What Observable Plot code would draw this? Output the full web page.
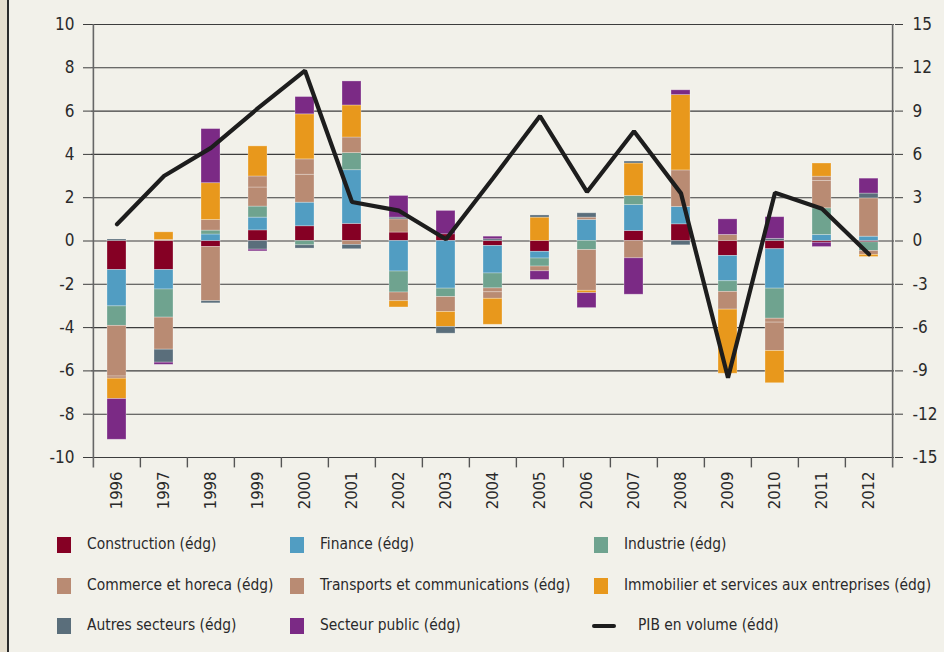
<!DOCTYPE html>
<html>
<head>
<meta charset="utf-8">
<script src="https://cdn.jsdelivr.net/npm/d3@7"></script>
<script src="https://cdn.jsdelivr.net/npm/@observablehq/plot@0.6"></script>
<style>
  html, body { margin: 0; padding: 0; background: #f2f1ea; }
  #wrap { position: relative; width: 944px; height: 652px; background: #f2f1ea; overflow: hidden;
          font-family: "Liberation Sans Narrow", "DejaVu Sans Condensed", "Roboto", sans-serif; color: #2a2a2a; }
  #strip { position: absolute; left: 0; top: 0; width: 7px; height: 652px; background: #e6dfcf; border-right: 2px solid #2b2b2b; }
  #chart { position: absolute; left: 0; top: 0; }
  .item { position: absolute; height: 16px; display: flex; align-items: center; font-size: 15.4px; white-space: nowrap; }
  .sw { position: absolute; width: 14px; height: 16px; }
  .ln { position: absolute; width: 24px; height: 4px; background: #1d1d1d; border-radius: 2px; }
</style>
</head>
<body>
<div id="wrap">
  <div id="strip"></div>
  <div id="chart"></div>
  <div id="legend"></div>
</div>
<script>
const years = ["1996","1997","1998","1999","2000","2001","2002","2003","2004","2005","2006","2007","2008","2009","2010","2011","2012"];

const sectors = [
  "Construction (édg)", "Finance (édg)", "Industrie (édg)", "Commerce et horeca (édg)",
  "Transports et communications (édg)", "Immobilier et services aux entreprises (édg)",
  "Autres secteurs (édg)", "Secteur public (édg)"
];
const colors = ["#850024", "#519dc2", "#6fa38f", "#b98b73", "#b98b73", "#e8981c", "#5a6e7b", "#7b2a85"];

const construction = [-1.34, -1.34, -0.28, 0.49, 0.68, 0.79, 0.39, 0.31, -0.23, -0.5, 0, 0.46, 0.77, -0.69, -0.38, -0.08, -0.06];
const finance      = [-1.68, -0.9, 0.3, 0.59, 1.09, 2.48, -1.41, -2.2, -1.27, -0.31, 0.97, 1.2, 0.8, -1.17, -1.82, 0.28, 0.2];
const industrie    = [-0.9, -1.3, 0.18, 0.51, -0.2, 0.79, -0.97, -0.39, -0.69, -0.37, -0.42, 0.42, 0, -0.49, -1.39, 1.23, -0.4];
const commerce     = [-2.34, 0.05, 0.49, 0.88, 1.29, 0.72, 0.61, -0.69, -0.18, -0.22, 0.11, -0.8, 1.69, 0.28, -0.18, 1.26, 1.77];
const transports   = [-0.1, -1.48, -2.5, 0.51, 0.71, -0.18, -0.4, 0, -0.3, 0, -1.88, 0, 0, -0.82, -1.31, 0.2, -0.18];
const immobilier   = [-0.94, 0.35, 1.7, 1.39, 2.08, 1.48, -0.29, -0.69, -1.2, 1.08, -0.11, 1.5, 3.48, -2.96, -1.49, 0.61, -0.1];
const autres       = [0.07, -0.6, -0.1, -0.4, -0.15, -0.2, 0.08, -0.31, 0.08, 0.1, 0.2, 0.09, -0.2, 0, 0.1, 0, 0.22];
const secteurPublic= [-1.88, -0.1, 2.5, -0.08, 0.8, 1.11, 1.0, 1.08, 0.12, -0.4, -0.69, -1.68, 0.22, 0.72, 1.0, -0.2, 0.69];

const pib = [1.16, 4.5, 6.45, 9.2, 11.8, 2.7, 2.1, 0.12, 4.35, 8.66, 3.4, 7.6, 3.3, -9.47, 3.35, 2.24, -0.92];

const leftTicks = [-10, -8, -6, -4, -2, 0, 2, 4, 6, 8, 10];
const rightTicks = [-15, -12, -9, -6, -3, 0, 3, 6, 9, 12, 15];

const series = [construction, finance, industrie, commerce, transports, immobilier, autres, secteurPublic];
const data = [];
years.forEach((yr, i) => {
  series.forEach((s, k) => data.push({year: yr, sector: sectors[k], value: s[i]}));
});
const pibData = years.map((yr, i) => ({year: yr, value: pib[i]}));

const W = 944, H = 512, ML = 91, MR = 50, MT = 24, MB = 55;
const step = (W - ML - MR) / years.length;
const ratio = 1.5; // right axis / left axis
const tickFont = "'DejaVu Sans Condensed', 'Liberation Sans Narrow', sans-serif";

const chart = Plot.plot({
  width: W, height: H,
  marginLeft: ML, marginRight: MR, marginTop: MT, marginBottom: MB,
  style: {background: "transparent", fontFamily: tickFont, fontSize: "17px", color: "#2a2a2a", overflow: "visible"},
  x: {domain: years, paddingInner: 0.6, paddingOuter: 0.3, label: null},
  y: {domain: [-10, 10], label: null},
  color: {domain: sectors, range: colors},
  marks: [
    Plot.ruleY(leftTicks, {stroke: "#3d3d3d", strokeWidth: 1.1}),
    Plot.barY(data, {x: "year", y: "value", fill: "sector", stroke: "#ffffff", strokeOpacity: 0.35, strokeWidth: 0.8}),
    Plot.line(pibData, {x: "year", y: d => d.value / ratio, stroke: "#1d1d1d", strokeWidth: 4.2, strokeLinejoin: "miter"}),
    Plot.ruleX(years.slice(1), {x: d => d, dx: -step / 2, y1: -10, y2: -10.48, stroke: "#555", strokeWidth: 1.4}),
    Plot.ruleX([years[0]], {x: d => d, dx: -step / 2, y1: -10.48, y2: 10, stroke: "#666", strokeWidth: 1.6}),
    Plot.ruleX([years[years.length - 1]], {x: d => d, dx: step / 2, y1: -10.48, y2: 10, stroke: "#666", strokeWidth: 1.6}),
    Plot.axisY({anchor: "left", ticks: leftTicks, tickFormat: d => String(d), tickSize: 8, tickPadding: 9, stroke: "#3d3d3d", label: null}),
    Plot.axisY({anchor: "right", ticks: leftTicks, tickFormat: (d, i) => String(rightTicks[i]), tickSize: 8, tickPadding: 10, stroke: "#3d3d3d", label: null}),
    Plot.axisX({anchor: "bottom", tickSize: 0, tickRotate: -90, tickPadding: 14, label: null, fontSize: 16.5})
  ]
});
document.getElementById("chart").appendChild(chart);

// Legend
const legend = document.getElementById("legend");
const cols = [57, 290, 594];
const rows = [545, 586, 626];
const items = sectors.map((s, k) => ({label: s, color: colors[k], type: "sw"}));
items.push({label: "PIB en volume (édd)", color: "#1d1d1d", type: "ln"});
items.forEach((it, idx) => {
  const c = idx % 3, r = Math.floor(idx / 3);
  const x = cols[c], y = rows[r];
  const m = document.createElement("div");
  if (it.type === "sw") {
    m.className = "sw";
    m.style.left = x + "px"; m.style.top = (y - 8) + "px"; m.style.background = it.color;
  } else {
    m.className = "ln";
    m.style.left = (x - 2) + "px"; m.style.top = (y - 2) + "px";
  }
  legend.appendChild(m);
  const t = document.createElement("div");
  t.className = "item";
  t.textContent = it.label;
  t.style.left = (it.type === "sw" ? x + 30 : x + 44) + "px";
  t.style.top = (y - 9) + "px";
  legend.appendChild(t);
});
</script>
</body>
</html>
